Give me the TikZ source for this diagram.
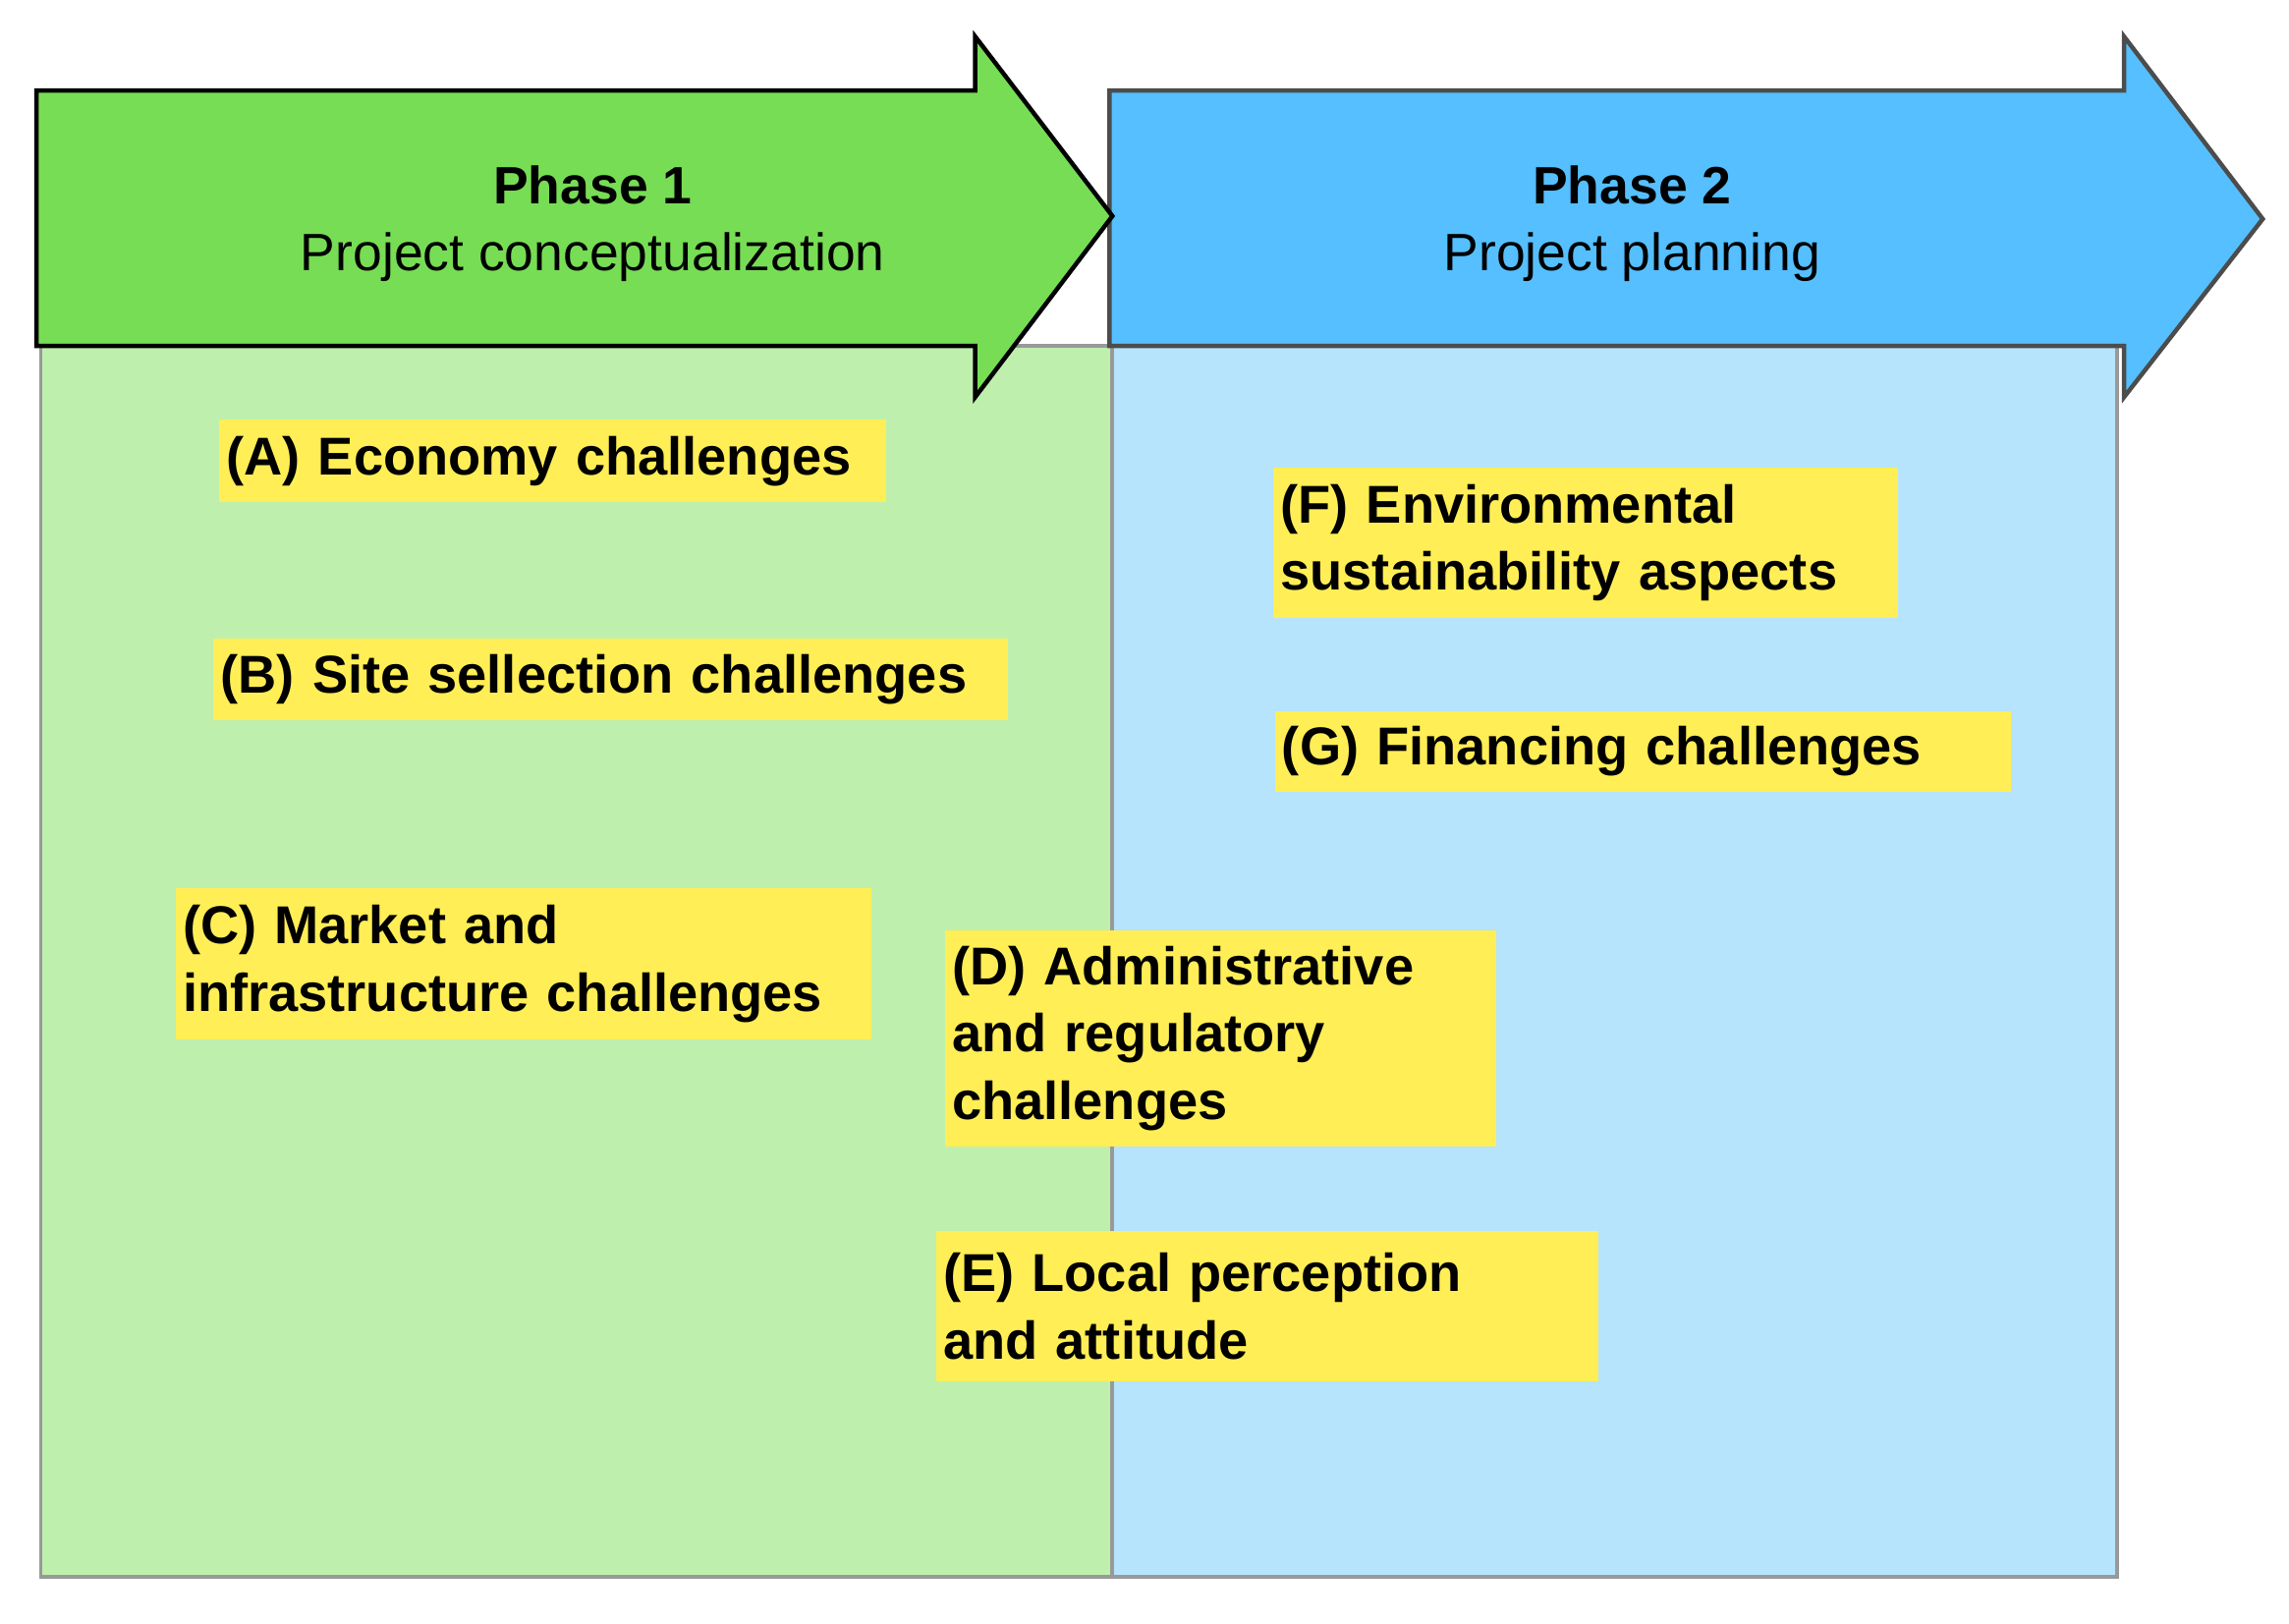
\documentclass[tikz,border=0pt]{standalone}
\usepackage{fontspec}
\setmainfont{Liberation Sans}
\definecolor{lgreen}{HTML}{BFEFAD}
\definecolor{lblue}{HTML}{B5E4FC}
\definecolor{agreen}{HTML}{77DD55}
\definecolor{ablue}{HTML}{55BFFF}
\definecolor{yel}{HTML}{FFEE55}
\begin{document}
\begin{tikzpicture}[x=1pt,y=-1pt,
 panel/.style={draw=gray!80,line width=2.5pt},
 arr/.style={line width=3pt,line join=miter},
 ybox/.style={fill=yel,anchor=north west,align=left,inner xsep=5pt,inner ysep=0pt,font=\fontsize{36.5}{46}\selectfont\bfseries},
 ptext/.style={align=center,font=\fontsize{36}{46}\selectfont}]
\useasboundingbox (0,0) rectangle (1568,1112);
\fill[white] (0,0) rectangle (1568,1112);
\draw[panel,fill=lgreen] (28,237) rectangle (762,1080);
\draw[panel,fill=lblue] (762,237) rectangle (1450,1080);
\draw[arr,fill=ablue,draw=black!70] (760,62) -- (1455,62) -- (1455,25) -- (1550,150) -- (1455,272) -- (1455,237) -- (760,237) -- cycle;
\draw[arr,fill=agreen,draw=black] (25,62) -- (668,62) -- (668,25) -- (762,148) -- (668,272) -- (668,237) -- (25,237) -- cycle;
\node[ptext] (p1) at (406,153) {\textbf{Phase 1}\\Project conceptualization};
\node[ptext] (p2) at (1118,153) {\textbf{Phase 2}\\Project planning};
\node[ybox,minimum width=457pt,minimum height=57pt,text width=447pt] (a) at (150,287) {(A) Economy challenges};
\node[ybox,minimum width=544pt,minimum height=56pt,text width=534pt] (b) at (146,437) {(B) Site sellection challenges};
\node[ybox,minimum width=477pt,minimum height=104pt,text width=467pt] (c) at (120,608) {(C) Market and\\infrastructure challenges};
\node[ybox,minimum width=428pt,minimum height=103pt,text width=418pt] (f) at (872,320) {(F) Environmental\\sustainability aspects};
\node[ybox,minimum width=504pt,minimum height=55pt,text width=494pt] (g) at (873,487) {(G) Financing challenges};
\node[ybox,minimum width=378pt,minimum height=148pt,text width=368pt] (d) at (647,637) {(D) Administrative\\and regulatory\\challenges};
\node[ybox,minimum width=454pt,minimum height=103pt,text width=444pt] (e) at (641,843) {(E) Local perception\\and attitude};
\end{tikzpicture}
\end{document}
